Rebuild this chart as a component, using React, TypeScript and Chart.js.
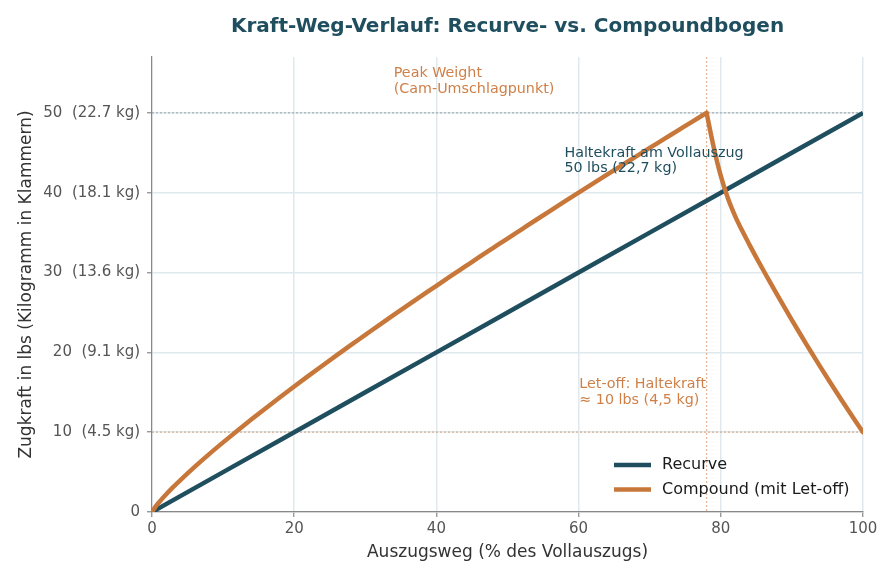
import { useEffect, useRef } from 'react';
import { Chart, registerables } from 'chart.js';

Chart.register(...registerables);

// Auszugsweg in % (x) und Zugkraft in lbs (y)
const recurveX = [0, 10, 20, 30, 40, 50, 60, 70, 80, 90, 100];
const recurveLbs = [0, 5, 10, 15, 20, 25, 30, 35, 40, 45, 50];

const compoundX = [
    0, 0.5, 1, 2, 3, 4, 6, 8, 10, 12, 14, 16, 18, 20, 22, 24, 26, 28, 30, 32, 34, 36, 38,
    40, 42, 44, 46, 48, 50, 52, 54, 56, 58, 60, 62, 64, 66, 68, 70, 72, 74, 76, 78,
    79, 80, 81, 82, 83, 84, 85, 86, 87, 88, 89, 90, 91, 92, 93, 94, 95, 96, 97, 98, 99, 100,
];
const compoundLbs = [
    0, 0.68, 1.23, 2.22, 3.14, 4.0, 5.65, 7.22, 8.72, 10.18, 11.61, 13.01, 14.38, 15.73, 17.05, 18.36, 19.65, 20.93, 22.19, 23.45, 24.69, 25.92, 27.13,
    28.34, 29.54, 30.73, 31.92, 33.09, 34.26, 35.42, 36.58, 37.73, 38.87, 40.0, 41.14, 42.26, 43.38, 44.5, 45.61, 46.71, 47.81, 48.91, 50.0,
    45.7, 42.1, 39.3, 37.1, 35.25, 33.53, 31.87, 30.25, 28.67, 27.11, 25.57, 24.05, 22.55, 21.07, 19.62, 18.18, 16.77, 15.37, 14.0, 12.65, 11.32, 10.0,
];

const xTicks = [0, 20, 40, 60, 80, 100];
const yTicks = [0, 10, 20, 30, 40, 50];
const yTickLabels = ['0', '10  (4.5 kg)', '20  (9.1 kg)', '30  (13.6 kg)', '40  (18.1 kg)', '50  (22.7 kg)'];

const seriesNames = ['Recurve', 'Compound (mit Let-off)'];
const peakX = 78;
const peakLbs = 50;
const letOffLbs = 10;

const TEAL = '#1f4e5f';
const ORANGE = '#c8773a';
const ORANGE_TEXT = '#cf8048';
const GRID = '#dfe9ed';
const FONT = '"DejaVu Sans", sans-serif';

const peakIdx = compoundX.indexOf(peakX);
const toPoints = (xs: number[], ys: number[]) => xs.map((v, i) => ({ x: v, y: ys[i] }));

const overlay = {
    id: 'overlay',
    beforeDatasetsDraw(chart: any) {
        const { ctx, chartArea: a, scales } = chart;
        const x = scales.x, y = scales.y;
        ctx.save();
        ctx.lineWidth = 1.2;
        ctx.setLineDash([2, 2]);
        // Referenzlinie Peak
        ctx.strokeStyle = 'rgba(120,130,135,0.6)';
        ctx.beginPath();
        ctx.moveTo(a.left, y.getPixelForValue(peakLbs));
        ctx.lineTo(a.right, y.getPixelForValue(peakLbs));
        ctx.stroke();
        // Let-off Linie + Peak-Position
        ctx.strokeStyle = 'rgba(200,119,58,0.55)';
        ctx.beginPath();
        ctx.moveTo(a.left, y.getPixelForValue(letOffLbs));
        ctx.lineTo(a.right, y.getPixelForValue(letOffLbs));
        ctx.moveTo(x.getPixelForValue(peakX), a.top);
        ctx.lineTo(x.getPixelForValue(peakX), a.bottom);
        ctx.stroke();
        ctx.restore();
    },
    afterDatasetsDraw(chart: any) {
        const { ctx, chartArea: a, scales } = chart;
        const x = scales.x, y = scales.y;
        ctx.save();
        ctx.textBaseline = 'middle';
        ctx.textAlign = 'left';
        ctx.font = `14.3px ${FONT}`;

        ctx.fillStyle = ORANGE_TEXT;
        ctx.fillText('Peak Weight', x.getPixelForValue(34), y.getPixelForValue(54.9));
        ctx.fillText('(Cam-Umschlagpunkt)', x.getPixelForValue(34), y.getPixelForValue(52.9));

        ctx.fillStyle = TEAL;
        ctx.fillText('Haltekraft am Vollauszug', x.getPixelForValue(58), y.getPixelForValue(45));
        ctx.fillText('50 lbs (22,7 kg)', x.getPixelForValue(58), y.getPixelForValue(43));

        ctx.fillStyle = ORANGE_TEXT;
        ctx.fillText('Let-off: Haltekraft', x.getPixelForValue(60.1), y.getPixelForValue(16));
        ctx.fillText('≈ 10 lbs (4,5 kg)', x.getPixelForValue(60.1), y.getPixelForValue(14));

        // Legende
        const colors = [TEAL, ORANGE];
        ctx.font = `16px ${FONT}`;
        seriesNames.forEach((name, i) => {
            const cy = a.bottom - 47 + i * 24.5;
            ctx.strokeStyle = colors[i];
            ctx.lineWidth = 4.5;
            ctx.beginPath();
            ctx.moveTo(614, cy);
            ctx.lineTo(651, cy);
            ctx.stroke();
            ctx.fillStyle = '#1a1a1a';
            ctx.fillText(name, 662, cy);
        });
        ctx.restore();
    },
    afterDraw(chart: any) {
        const { ctx, chartArea: a } = chart;
        const cx = (a.left + a.right) / 2;
        ctx.save();
        ctx.textAlign = 'center';
        ctx.textBaseline = 'middle';
        ctx.fillStyle = TEAL;
        ctx.font = `bold 20px ${FONT}`;
        ctx.fillText('Kraft-Weg-Verlauf: Recurve- vs. Compoundbogen', cx, 27);

        ctx.fillStyle = '#333333';
        ctx.font = `17px ${FONT}`;
        ctx.fillText('Auszugsweg (% des Vollauszugs)', cx, 553);
        ctx.translate(27, (a.top + a.bottom) / 2);
        ctx.rotate(-Math.PI / 2);
        ctx.fillText('Zugkraft in lbs (Kilogramm in Klammern)', 0, 0);
        ctx.restore();
    },
};

export default function App() {
    const canvasRef = useRef<HTMLCanvasElement>(null);
    const chartRef = useRef<Chart | null>(null);

    useEffect(() => {
        if (!canvasRef.current) return;
        const ctx = canvasRef.current.getContext('2d');
        if (!ctx) return;

        if (chartRef.current) {
            chartRef.current.destroy();
        }

        const compoundStyle = {
            borderColor: ORANGE,
            borderWidth: 4.5,
            borderCapStyle: 'round' as const,
            pointRadius: 0,
            cubicInterpolationMode: 'monotone' as const,
            order: 0,
        };

        chartRef.current = new Chart(ctx, {
            type: 'line',
            data: {
                datasets: [
                    {
                        label: seriesNames[0],
                        data: toPoints(recurveX, recurveLbs),
                        borderColor: TEAL,
                        borderWidth: 4.5,
                        pointRadius: 0,
                        tension: 0,
                        order: 1,
                    },
                    {
                        // Anstieg bis zum Peak
                        label: seriesNames[1],
                        data: toPoints(compoundX.slice(0, peakIdx + 1), compoundLbs.slice(0, peakIdx + 1)),
                        ...compoundStyle,
                    },
                    {
                        // Let-off nach dem Peak
                        label: seriesNames[1],
                        data: toPoints(compoundX.slice(peakIdx), compoundLbs.slice(peakIdx)),
                        ...compoundStyle,
                    },
                ],
            },
            options: {
                animation: false,
                responsive: true,
                maintainAspectRatio: false,
                layout: { padding: { left: 0, top: 57, right: 33, bottom: 0 } },
                plugins: {
                    legend: { display: false },
                    title: { display: false },
                    tooltip: { enabled: false },
                },
                scales: {
                    x: {
                        type: 'linear',
                        min: 0,
                        max: 100,
                        afterBuildTicks: (s: any) => { s.ticks = xTicks.map((v) => ({ value: v })); },
                        afterFit: (s: any) => { s.height = 69; },
                        grid: { color: GRID, lineWidth: 1.5, tickColor: '#888', tickLength: 5, tickWidth: 1.2 },
                        border: { display: true, color: '#888', width: 1.2 },
                        ticks: {
                            color: '#555',
                            font: { family: FONT, size: 15 },
                            padding: 3,
                            maxRotation: 0,
                        },
                    },
                    y: {
                        type: 'linear',
                        min: 0,
                        max: 57,
                        afterBuildTicks: (s: any) => { s.ticks = yTicks.map((v) => ({ value: v })); },
                        afterFit: (s: any) => { s.width = 152; },
                        grid: { color: GRID, lineWidth: 1.5, tickColor: '#888', tickLength: 5, tickWidth: 1.2 },
                        border: { display: true, color: '#888', width: 1.2 },
                        ticks: {
                            color: '#555',
                            font: { family: FONT, size: 15 },
                            padding: 7,
                            callback: (v: any) => yTickLabels[yTicks.indexOf(Number(v))] ?? '',
                        },
                    },
                },
            },
            plugins: [overlay],
        });

        return () => {
            if (chartRef.current) {
                chartRef.current.destroy();
                chartRef.current = null;
            }
        };
    }, []);

    return (
        <div style={{ position: 'absolute', left: 0, top: 0, width: 896, height: 581, background: '#fff' }}>
            <canvas ref={canvasRef}></canvas>
        </div>
    );
}
